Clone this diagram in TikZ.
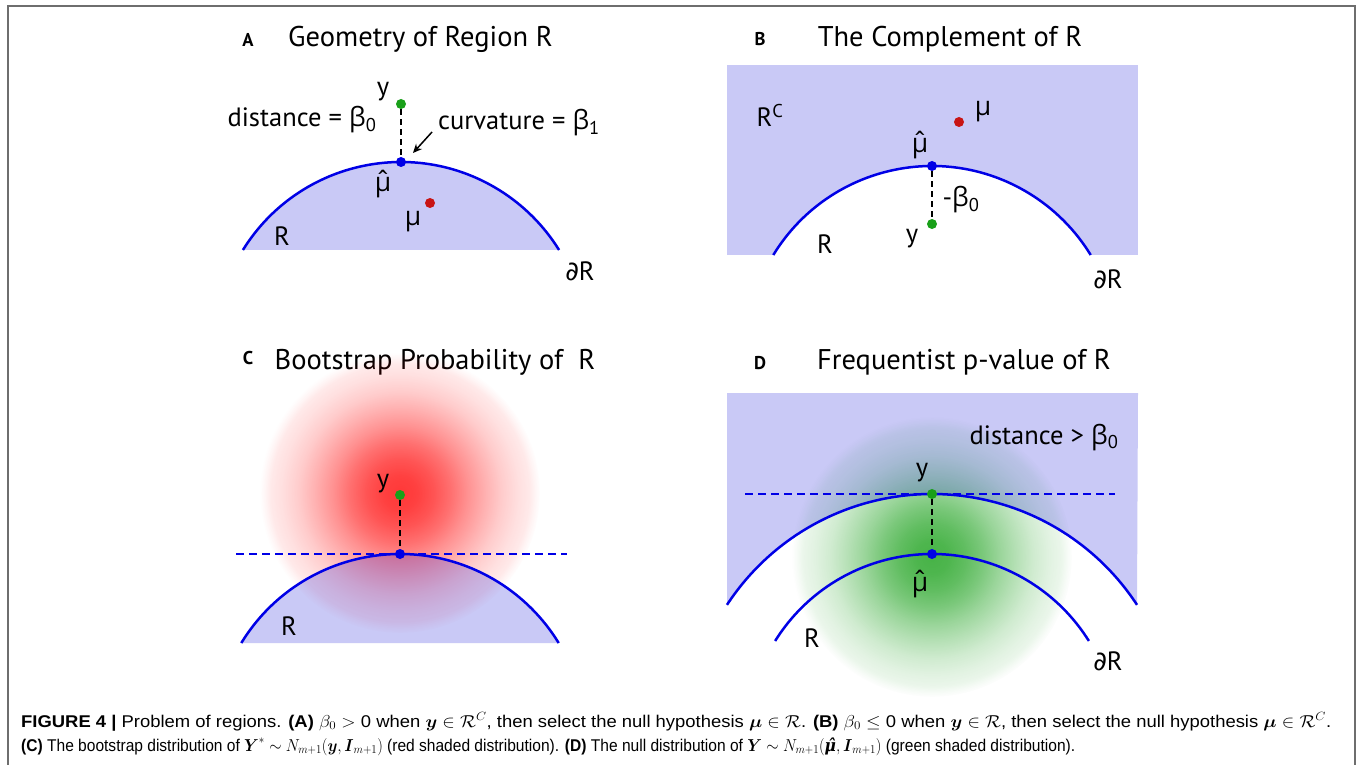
\documentclass[tikz,border=0pt]{standalone}
\usepackage{fontspec}
\usepackage{amsmath}
\usepackage{graphicx}
\usetikzlibrary{arrows.meta,fadings}
\newfontfamily\ptsans{PT Sans}
\newfontfamily\grk{Open Sans}
\newfontfamily\capfont{Liberation Sans}
\newfontfamily\symfont{DejaVu Sans}
\newfontfamily\djserif{DejaVu Serif}

\definecolor{curveblue}{RGB}{0,0,230}
\definecolor{regblue}{RGB}{40,40,220}
\definecolor{dotgreen}{RGB}{25,160,25}
\definecolor{dotred}{RGB}{200,20,20}
\definecolor{framegray}{RGB}{110,110,110}
\definecolor{glowgreen}{RGB}{0,150,0}
\definecolor{glowred}{RGB}{255,0,0}

\pgfdeclareradialshading{glowshade}{\pgfpointorigin}{color(0bp)=(white); color(3bp)=(black!4); color(6bp)=(black!14); color(9bp)=(black!28); color(12bp)=(black!45); color(15bp)=(black!60); color(18bp)=(black!74); color(21bp)=(black!84); color(23bp)=(black!89); color(24bp)=(black!95); color(25bp)=(black); color(50bp)=(black)}
\pgfdeclarefading{glow}{\pgfuseshading{glowshade}}

\newcommand{\gb}{{\grk β}}
\newcommand{\gm}{{\grk μ}}
\newcommand{\mhat}{{\grk\ooalign{μ\cr\hidewidth\raisebox{0.04em}{ˆ}\hidewidth\cr}}}
\newcommand{\pd}{{\symfont ∂}}

\tikzset{
  region/.style={fill=regblue, fill opacity=0.25},
  bnd/.style={draw=curveblue, line width=2.5pt},
  dot/.style={circle, inner sep=0pt, minimum size=10pt},
  ydot/.style={dot, fill=dotgreen},
  bdot/.style={dot, fill=curveblue},
  rdot/.style={dot, fill=dotred},
  dist/.style={draw=black, line width=2pt, dash pattern=on 6pt off 4pt},
  tang/.style={draw=curveblue, line width=2pt, dash pattern=on 8pt off 5pt},
  lbl/.style={font=\ptsans\fontsize{26.5}{31}\selectfont, inner sep=0pt, text=black},
  ttl/.style={font=\ptsans\fontsize{28.5}{33}\selectfont, inner sep=0pt, text=black, anchor=base},
  plet/.style={font=\ptsans\bfseries\fontsize{18.5}{22}\selectfont, inner sep=0pt},
  capline/.style={font=\capfont\fontsize{17}{20}\selectfont, inner sep=0pt, anchor=base west},
  glowr/.style={fill=glowred, fill opacity=0.78, path fading=glow},
  glowg/.style={fill=glowgreen, fill opacity=0.72, path fading=glow},
}

\begin{document}
\begin{tikzpicture}[x=1pt,y=-1pt]
\useasboundingbox (0,0) rectangle (1358,765);
\fill[white] (0,0) rectangle (1358,765);
\draw[framegray, line width=2pt] (8,765) -- (8,6) -- (1355,6) -- (1355,765);

% ---------- Panel A ----------
\node[plet] (labA) at (248,40) {A};
\node[ttl] (titA) at (420.5,47) {Geometry of Region R};
\coordinate (cA) at (401,348);
\fill[region] ([shift={(148.2:186pt)}]cA) arc[start angle=148.2, end angle=31.8, radius=186pt] -- cycle;
\draw[bnd] ([shift={(148.2:186pt)}]cA) arc[start angle=148.2, end angle=31.8, radius=186pt];
\node[bdot] (muA) at (401,162) {};
\node[ydot] (yA) at (401,104) {};
\node[rdot] (mA) at (430,203) {};
\draw[dist] (yA) -- (muA);
\coordinate (atail) at (432,132);
\coordinate (ahead) at (413,153);
\draw[line width=1.5pt, -{Stealth[length=9pt,width=8pt]}] (atail) -- (ahead);
\node[lbl] (yAl) at (383,92) {y};
\node[lbl, anchor=base] (distA) at (302,127) {distance = \gb\textsubscript{0}};
\node[lbl, anchor=base] (curvA) at (519,130) {curvature = \gb\textsubscript{1}};
\node[lbl] (muhA) at (383,184) {\mhat};
\node[lbl] (mAl) at (413,222) {\gm};
\node[lbl] (RA) at (282,236) {R};
\node[lbl] (dRA) at (580,271) {\pd R};

% ---------- Panel B ----------
\node[plet] (labB) at (760,39) {B};
\node[ttl] (titB) at (950,47) {The Complement of R};
\fill[region] (727,65) rectangle (1138,255);
\coordinate (cB) at (932,352);
\fill[white] ([shift={(148.57:186pt)}]cB) arc[start angle=148.57, end angle=31.43, radius=186pt] -- cycle;
\draw[bnd] ([shift={(148.57:186pt)}]cB) arc[start angle=148.57, end angle=31.43, radius=186pt];
\node[bdot] (muB) at (932,166) {};
\node[ydot] (yB) at (932,224) {};
\node[rdot] (mB) at (959,122) {};
\draw[dist] (muB) -- (yB);
\node[lbl] (RcB) at (770,115) {R\textsuperscript{C}};
\node[lbl] (mBl) at (983,112) {\gm};
\node[lbl] (muhB) at (920,145) {\mhat};
\node[lbl, anchor=base] (negb) at (961,207) {-\gb\textsubscript{0}};
\node[lbl] (yBl) at (912,239) {y};
\node[lbl] (RB) at (825,244) {R};
\node[lbl] (dRB) at (1108,279) {\pd R};

% ---------- Panel C ----------
\node[plet] (labC) at (248,358) {C};
\node[ttl] (titC) at (435,369) {Bootstrap Probability of~~R};
\fill[glowr] (400,493) circle (140pt);
\coordinate (cC) at (400,740);
\fill[region] ([shift={(148.57:186pt)}]cC) arc[start angle=148.57, end angle=31.43, radius=186pt] -- cycle;
\draw[bnd] ([shift={(148.57:186pt)}]cC) arc[start angle=148.57, end angle=31.43, radius=186pt];
\coordinate (tCl) at (236,554);
\coordinate (tCr) at (567,554);
\draw[tang] (tCl) -- (tCr);
\node[bdot] (muC) at (400,554) {};
\node[ydot] (yC) at (400,495) {};
\draw[dist] (yC) -- (muC);
\node[lbl] (yCl) at (383,484) {y};
\node[lbl] (RC) at (289,626) {R};

% ---------- Panel D ----------
\node[plet] (labD) at (760,363) {D};
\node[ttl] (titD) at (964,369) {Frequentist p-value of R};
\fill[glowg] (932,557) circle (140pt);
\coordinate (cD) at (932,739);
\fill[region] ([shift={(146.8:245pt)}]cD) arc[start angle=146.8, end angle=33.2, radius=245pt] -- (1138,393) -- (727,393) -- cycle;
\draw[bnd] ([shift={(146.8:245pt)}]cD) arc[start angle=146.8, end angle=33.2, radius=245pt];
\draw[bnd] ([shift={(147.99:185pt)}]cD) arc[start angle=147.99, end angle=32.01, radius=185pt];
\coordinate (tDl) at (745,494);
\coordinate (tDr) at (1115,494);
\draw[tang] (tDl) -- (tDr);
\node[ydot] (yD) at (932,494) {};
\node[bdot] (muD) at (932,554) {};
\draw[dist] (yD) -- (muD);
\node[lbl, anchor=base] (distD) at (1044,444) {distance > \gb\textsubscript{0}};
\node[lbl] (yDl) at (922,473) {y};
\node[lbl] (muhD) at (920,584) {\mhat};
\node[lbl] (RD) at (812,638) {R};
\node[lbl] (dRD) at (1108,661) {\pd R};

% ---------- Caption ----------
\node[capline] (cap1) at (21,727) {\resizebox{1310pt}{\height}{\textbf{FIGURE 4 |} Problem of regions. \textbf{(A)} $\beta_0 > \mbox{0}$ when $\boldsymbol{y} \in \mathcal{R}^C$, then select the null hypothesis $\boldsymbol{\mu} \in \mathcal{R}$. \textbf{(B)} $\beta_0 \leq \mbox{0}$ when $\boldsymbol{y} \in \mathcal{R}$, then select the null hypothesis $\boldsymbol{\mu} \in \mathcal{R}^C$.}};
\node[capline] (cap2) at (21,751) {\resizebox{1054pt}{\height}{\textbf{(C)} The bootstrap distribution of $\boldsymbol{Y}^{*} \sim N_{m+1}(\boldsymbol{y}, \boldsymbol{I}_{m+1})$ (red shaded distribution). \textbf{(D)} The null distribution of $\boldsymbol{Y} \sim N_{m+1}(\mbox{\djserif\bfseries\itshape μ̂}, \boldsymbol{I}_{m+1})$ (green shaded distribution).}};
\end{tikzpicture}
\end{document}
